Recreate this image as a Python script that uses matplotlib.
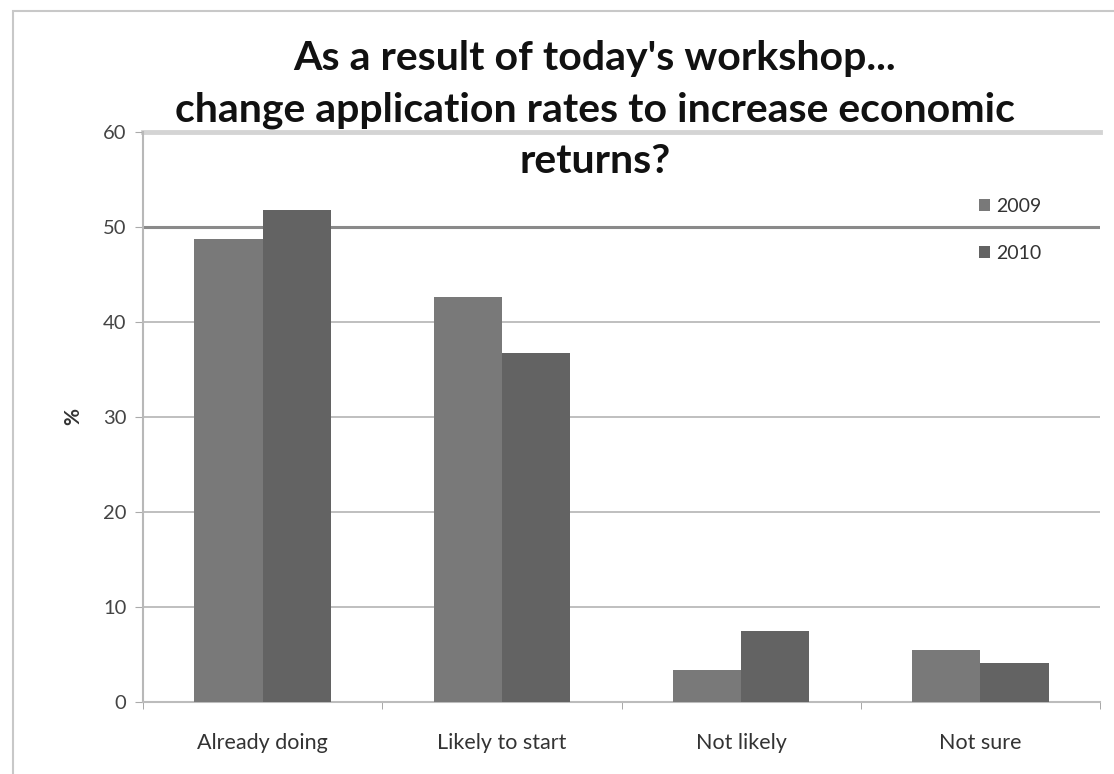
import numpy as np
import matplotlib
matplotlib.use("Agg")
import matplotlib.pyplot as plt
from matplotlib.patches import Rectangle

# survey responses (%)
categories = ["Already doing", "Likely to start", "Not likely", "Not sure"]
years = ["2009", "2010"]
pct_2009 = [48.7, 42.6, 3.4, 5.5]
pct_2010 = [51.8, 36.7, 7.5, 4.1]
yticks = [0, 10, 20, 30, 40, 50, 60]

bar_colors = ["#797979", "#636363"]
plt.rcParams["font.family"] = ["Lato", "DejaVu Sans"]

fig = plt.figure(figsize=(11.14, 7.74), dpi=100)
ax = fig.add_axes([0.1284, 0.093, 0.8590, 0.7365])

x = np.arange(len(categories))
w = 0.285
b1 = ax.bar(x - w / 2, pct_2009, w, color=bar_colors[0], zorder=3, label=years[0])
b2 = ax.bar(x + w / 2, pct_2010, w, color=bar_colors[1], zorder=3, label=years[1])

ax.set_xlim(-0.5, len(categories) - 0.5)
ax.set_ylim(0, 60)
ax.set_yticks(yticks)
ax.set_yticklabels([str(t) for t in yticks], fontsize=14.5, color="#444444")

# horizontal gridlines, the 50 and 60 lines drawn heavier
for t in yticks[1:]:
    if t == 60:
        ax.axhline(t, color="#d4d4d4", lw=3.5, zorder=1, clip_on=False)
    elif t == 50:
        ax.axhline(t, color="#8a8a8a", lw=2.2, zorder=1)
    else:
        ax.axhline(t, color="#b4b4b4", lw=1.2, zorder=1)

ax.set_xticks(x)
ax.set_xticklabels(categories, fontsize=15.5, color="#333333")
ax.tick_params(axis="x", length=0, pad=22)
ax.set_xticks(np.arange(len(categories) + 1) - 0.5, minor=True)
ax.tick_params(axis="x", which="minor", length=5, color="#999999", direction="out")
ax.tick_params(axis="y", length=6, color="#aaaaaa", pad=6)

for s in ["top", "right"]:
    ax.spines[s].set_visible(False)
ax.spines["left"].set_color("#b8b8b8")
ax.spines["bottom"].set_color("#bcbcbc")
ax.spines["left"].set_linewidth(1.5)
ax.spines["bottom"].set_linewidth(1.5)

ax.set_ylabel("%", fontsize=15, fontweight="bold", color="#333333", labelpad=14)

leg = ax.legend(handles=[b1, b2], loc="upper left", bbox_to_anchor=(0.855, 0.915),
                frameon=False, fontsize=14, handlelength=0.6, handleheight=0.6,
                handletextpad=0.3, labelspacing=1.55)
for t in leg.get_texts():
    t.set_color("#333333")

fig.text(0.534, 0.858, "As a result of today's workshop...\nchange application rates to increase economic\nreturns?",
         ha="center", va="center", fontsize=29.5, fontweight="bold", color="#111111",
         linespacing=1.48, zorder=10)

# light frame along the top and left of the chart
fig.patches.append(Rectangle((13 / 1114, -0.01), 1.02, 1 - 11 / 774 + 0.01,
                             transform=fig.transFigure, fill=False,
                             edgecolor="#c8c8c8", lw=1.5))

fig.savefig("out.png", dpi=100)
